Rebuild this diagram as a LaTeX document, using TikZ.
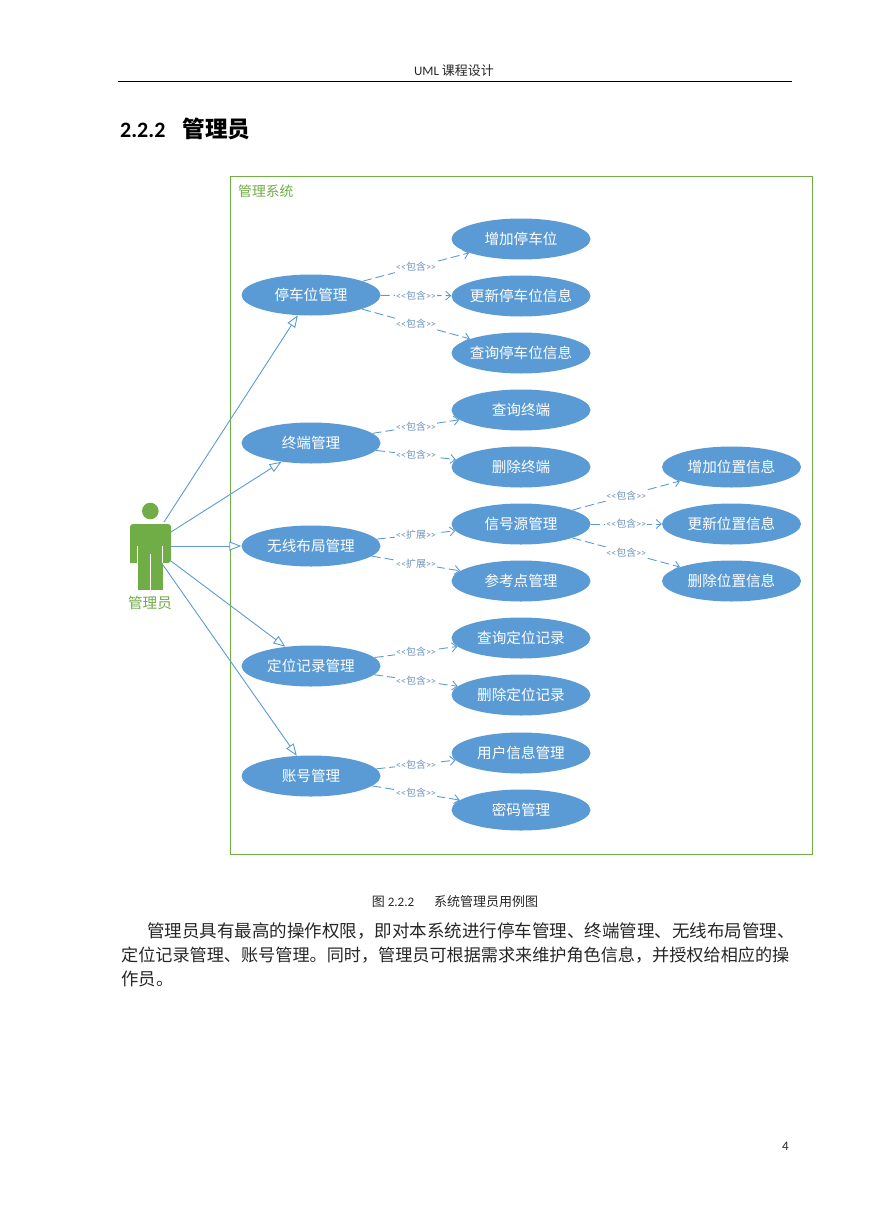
\documentclass[tikz,border=0pt]{standalone}
\usepackage{fontspec}
\usepackage{xcolor}
\setmainfont{Carlito}
\newfontfamily\cjk{Noto Sans CJK SC}
\newcommand{\zh}[1]{{\cjk #1}}
\usetikzlibrary{arrows.meta}
\usetikzlibrary{shapes.geometric}
\definecolor{usecaseblue}{HTML}{5B9BD5}
\definecolor{labelblue}{HTML}{6F93BE}
\definecolor{actorgreen}{HTML}{70AD47}
\tikzset{
    tnode/.style = {align=center, inner sep=0pt, text centered},
    blue_node/.style = {tnode, ellipse, text=white, fill=usecaseblue, inner xsep=-8pt, minimum width=139pt, minimum height=41pt, font=\fontsize{14.6}{16}\cjk},
    etc_label/.style = {tnode, fill=white, inner xsep=1pt, inner ysep=1pt, text=labelblue, font=\fontsize{10}{11}\selectfont},
    green_text/.style = {tnode, text=actorgreen, font=\fontsize{13.8}{16}\cjk},
    page_text/.style = {tnode, anchor=west, text=black!85},
    include_edge/.style = {usecaseblue, line width=0.9pt, dash pattern=on 9pt off 4pt, -{Straight Barb[length=5pt, width=9pt]}},
    actor_edge/.style = {usecaseblue, line width=0.9pt, -{Triangle[open, fill=white, length=12pt, width=9pt]}}
}

\begin{document}
\begin{tikzpicture}
            [x=1pt, y=-1pt]

            \useasboundingbox (0,0) rectangle (869,1228);

            \node (header) [tnode, text=black!85, font=\fontsize{13}{15}\selectfont] at (454,71) {UML \zh{课程设计}};
            \coordinate (rule_l) at (118,81.5);
            \coordinate (rule_r) at (792,81.5);
            \draw [line width=0.8pt] (rule_l) -- (rule_r);
            \node (title) [tnode, anchor=west, font=\fontsize{22}{24}\selectfont\bfseries] at (120,129) {2.2.2\hspace{17pt}{\cjk\fontsize{22.6}{24}\selectfont 管理员}};

            \node (system) [draw=actorgreen, line width=0.7pt, minimum width=582pt, minimum height=678pt, inner sep=0pt] at (521.5,515) {};
            \node (system_name) [green_text, anchor=west] at (238,191) {管理系统};

            \fill [actorgreen] (150.3,511) circle (8.3pt);
            \fill [actorgreen, rounded corners=3pt] (130,563) -- (130,524) -- (171,524) -- (171,563) [sharp corners] -- cycle;
            \fill [actorgreen] (137.7,555) rectangle (162.7,589.5);
            \draw [white, line width=0.5pt] (137.7,546) -- (137.7,563);
            \draw [white, line width=0.5pt] (162.7,546) -- (162.7,563);
            \draw [white, line width=0.7pt] (150.3,554) -- (150.3,589.5);
            \node (admin) [green_text, font=\fontsize{14.6}{16}\cjk] at (150,603) {管理员};

            \coordinate (admin_a) at (164,522);
            \coordinate (admin_b) at (171,532);
            \coordinate (admin_c) at (171,546);
            \coordinate (admin_d) at (171,561);
            \coordinate (admin_e) at (163,565);

            \node (parking) [blue_node] at (311,295) {停车位管理};
            \node (terminal) [blue_node] at (311,443) {终端管理};
            \node (wireless) [blue_node] at (311,546) {无线布局管理};
            \node (record) [blue_node] at (311,666) {定位记录管理};
            \node (account) [blue_node] at (311,776) {账号管理};

            \node (park_add) [blue_node] at (521,239) {增加停车位};
            \node (park_upd) [blue_node] at (521,296) {更新停车位信息};
            \node (park_qry) [blue_node] at (521,353) {查询停车位信息};
            \node (term_qry) [blue_node] at (521,410) {查询终端};
            \node (term_del) [blue_node] at (521,467) {删除终端};
            \node (signal) [blue_node] at (521,524) {信号源管理};
            \node (refpoint) [blue_node] at (521,581) {参考点管理};
            \node (rec_qry) [blue_node] at (521,638) {查询定位记录};
            \node (rec_del) [blue_node] at (521,695) {删除定位记录};
            \node (user) [blue_node] at (521,753) {用户信息管理};
            \node (password) [blue_node] at (521,810) {密码管理};

            \node (pos_add) [blue_node] at (731.5,467) {增加位置信息};
            \node (pos_upd) [blue_node] at (731.5,524) {更新位置信息};
            \node (pos_del) [blue_node] at (731.5,581) {删除位置信息};

            \draw [actor_edge] (admin_a) -- (parking);
            \draw [actor_edge] (admin_b) -- (terminal);
            \draw [actor_edge] (admin_c) -- (wireless);
            \draw [actor_edge] (admin_d) -- (record);
            \draw [actor_edge] (admin_e) -- (account);

            \draw [include_edge] (parking) -- node [etc_label] {<{}<\zh{包含}>{}>} (park_add);
            \draw [include_edge] (parking) -- node [etc_label] {<{}<\zh{包含}>{}>} (park_upd);
            \draw [include_edge] (parking) -- node [etc_label] {<{}<\zh{包含}>{}>} (park_qry);
            \draw [include_edge] (terminal) -- node [etc_label] {<{}<\zh{包含}>{}>} (term_qry);
            \draw [include_edge] (terminal) -- node [etc_label] {<{}<\zh{包含}>{}>} (term_del);
            \draw [include_edge] (wireless) -- node [etc_label] {<{}<\zh{扩展}>{}>} (signal);
            \draw [include_edge] (wireless) -- node [etc_label] {<{}<\zh{扩展}>{}>} (refpoint);
            \draw [include_edge] (record) -- node [etc_label] {<{}<\zh{包含}>{}>} (rec_qry);
            \draw [include_edge] (record) -- node [etc_label] {<{}<\zh{包含}>{}>} (rec_del);
            \draw [include_edge] (account) -- node [etc_label] {<{}<\zh{包含}>{}>} (user);
            \draw [include_edge] (account) -- node [etc_label] {<{}<\zh{包含}>{}>} (password);
            \draw [include_edge] (signal) -- node [etc_label] {<{}<\zh{包含}>{}>} (pos_add);
            \draw [include_edge] (signal) -- node [etc_label] {<{}<\zh{包含}>{}>} (pos_upd);
            \draw [include_edge] (signal) -- node [etc_label] {<{}<\zh{包含}>{}>} (pos_del);

            \node (caption) [tnode, text=black!85, font=\fontsize{13}{15}\selectfont] at (455,902) {\zh{图} 2.2.2\hspace{20pt}\zh{系统管理员用例图}};
            \node (line_a) [page_text, font=\fontsize{17.5}{19}\cjk] at (147,931) {管理员具有最高的操作权限，即对本系统进行停车管理、终端管理、无线布局管理、};
            \node (line_b) [page_text, font=\fontsize{17.13}{19}\cjk] at (121,955) {定位记录管理、账号管理。同时，管理员可根据需求来维护角色信息，并授权给相应的操};
            \node (line_c) [page_text, font=\fontsize{17.4}{19}\cjk] at (121,979) {作员。};
            \node (page_no) [tnode, text=black!85, font=\fontsize{13}{15}\selectfont] at (785.5,1146) {4};
\end{tikzpicture}
\end{document}
